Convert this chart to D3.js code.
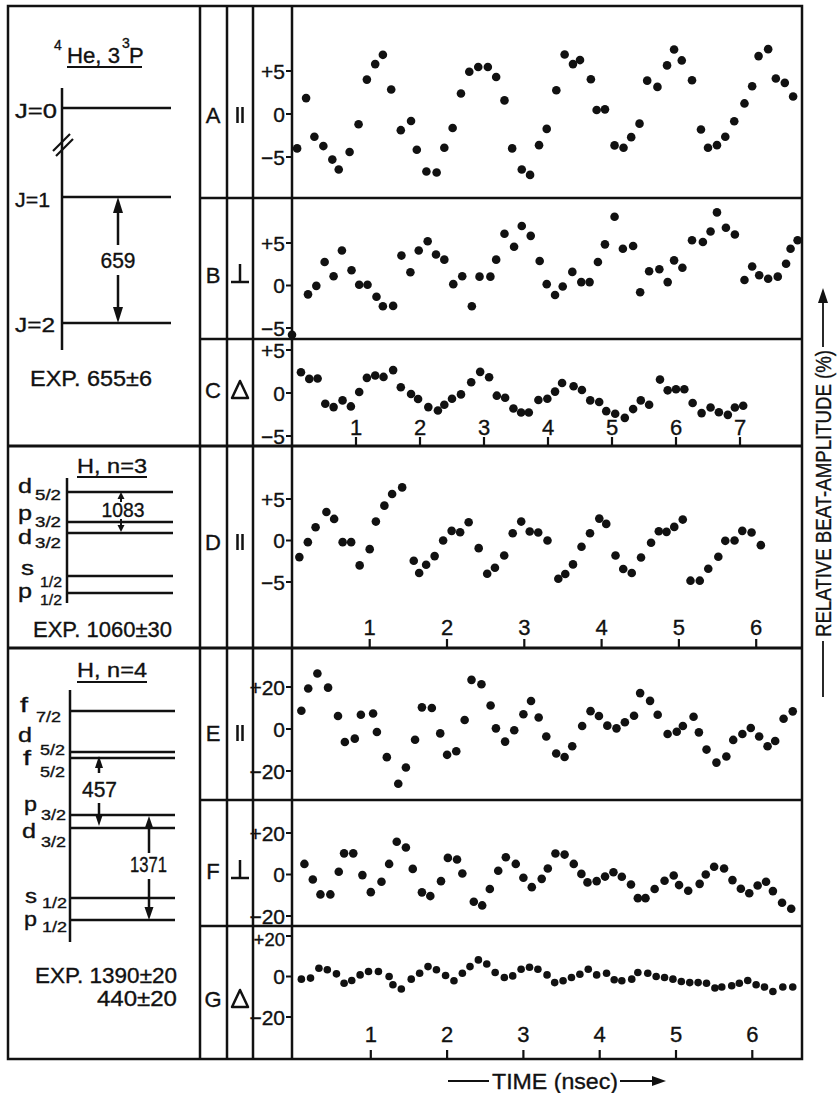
<!DOCTYPE html>
<html>
<head>
<meta charset="utf-8">
<script src="https://cdn.jsdelivr.net/npm/d3@7"></script>
<style>
body{margin:0;background:#fff}
text{font-family:"Liberation Sans",Arial,sans-serif;fill:#111;stroke:#111;stroke-width:0.35px}
</style>
</head>
<body>
<div id="main"></div>
<script>
// beat amplitudes (%) against time (nsec)
var aTime = [0.08,0.22,0.35,0.49,0.63,0.73,0.90,1.04,1.17,1.30,1.42,1.55,1.70,1.86,1.95,2.10,2.26,2.38,2.51,2.64,2.77,2.91,3.06,3.19,3.32,3.44,3.59,3.72,3.86,3.98,4.13,4.26,4.39,4.50,4.67,4.76,4.89,5.04,5.18,5.30,5.43,5.55,5.71,5.86,5.97,6.09,6.25,6.39,6.50,6.64,6.77,6.91,7.07,7.19,7.29,7.44,7.56,7.70,7.83];
var aVal = [-4.0,1.85,-2.65,-3.73,-5.3,-6.46,-4.42,-1.19,4.0,5.8,6.88,2.85,-1.88,-0.81,-4.15,-6.69,-6.81,-3.92,-1.62,2.38,4.92,5.46,5.46,4.31,1.58,-4.0,-6.46,-7.08,-3.62,-1.73,2.77,6.92,5.8,6.27,4.04,0.46,0.54,-3.65,-3.92,-2.69,-1.12,3.88,3.15,5.65,7.5,6.23,3.92,-1.81,-3.92,-3.62,-2.65,-0.85,1.23,3.23,6.73,7.54,4.12,3.62,2.04];

var bTime = [0,0.25,0.38,0.51,0.65,0.78,0.93,1.05,1.18,1.32,1.42,1.58,1.71,1.85,1.98,2.12,2.25,2.38,2.52,2.66,2.81,2.93,3.10,3.19,3.32,3.47,3.59,3.73,3.87,3.98,4.11,4.23,4.38,4.52,4.65,4.78,4.89,5.04,5.17,5.33,5.44,5.58,5.74,5.87,5.97,6.10,6.25,6.42,6.54,6.64,6.78,6.92,7.07,7.19,7.30,7.44,7.59,7.72,7.79,7.90];
var bVal = [-5.8,-1.04,-0.04,2.76,1.08,4.12,1.8,0.08,0.08,-1.32,-2.44,-2.4,3.52,1.56,4.12,5.2,3.64,3.04,0.16,1.08,-2.44,1.04,1.04,3.04,6.08,4.56,7.0,5.84,2.88,0.16,-1.12,-0.12,1.6,0.4,0.4,2.76,4.84,8.08,4.32,4.64,-0.8,1.68,1.92,0.4,2.96,2.08,5.32,5.12,6.36,8.6,6.8,6.0,0.64,2.24,1.2,0.8,1.04,2.56,4.32,5.32];

var cTime = [0.14,0.27,0.40,0.52,0.65,0.79,0.92,1.05,1.17,1.30,1.43,1.58,1.70,1.86,1.97,2.13,2.28,2.38,2.50,2.64,2.80,2.94,3.08,3.20,3.33,3.46,3.58,3.70,3.85,3.99,4.11,4.22,4.40,4.53,4.66,4.80,4.91,5.05,5.20,5.33,5.45,5.58,5.75,5.87,6.00,6.13,6.26,6.40,6.54,6.67,6.81,6.92,7.05];
var cVal = [2.42,1.64,1.68,-1.25,-1.64,-0.86,-1.56,0.12,1.76,2.03,1.87,2.66,0.66,-0.12,-0.70,-1.64,-2.03,-1.37,-0.66,-0.16,1.25,2.46,1.84,-0.31,-0.55,-1.80,-2.27,-2.27,-0.82,-0.66,0.16,1.17,0.78,0.35,-0.86,-1.05,-2.11,-2.42,-2.89,-1.87,-0.86,-1.37,1.56,0.31,0.43,0.43,-1.17,-2.34,-1.68,-2.23,-2.54,-1.68,-1.48];

var dTime = [0.09,0.20,0.30,0.44,0.54,0.65,0.76,0.87,1.00,1.08,1.19,1.29,1.42,1.57,1.64,1.73,1.84,1.95,2.06,2.17,2.28,2.41,2.52,2.62,2.74,2.85,2.96,3.07,3.18,3.30,3.44,3.53,3.63,3.74,3.85,3.97,4.06,4.18,4.28,4.39,4.51,4.64,4.74,4.84,4.94,5.05,5.15,5.27,5.38,5.51,5.60,5.72,5.82,5.94,6.06];
var dVal = [-2.0,-0.2,1.6,3.44,2.6,-0.2,-0.2,-3.0,-1.04,2.28,4.2,5.6,6.4,-2.44,-3.92,-2.92,-1.88,0,1.16,1.0,2.2,-0.92,-4.0,-3.28,-1.8,0.88,2.28,1.08,0.96,0,-4.6,-4.04,-2.88,-0.76,0.88,2.64,2.0,-1.8,-3.44,-3.92,-2.04,-0.28,1.12,1.04,1.64,2.52,-4.84,-4.84,-3.4,-1.96,-0.04,0,1.16,0.96,-0.56];

var eTime = [0.09,0.18,0.30,0.44,0.57,0.66,0.79,0.87,1.03,1.08,1.21,1.36,1.46,1.58,1.67,1.80,1.91,2.00,2.12,2.23,2.32,2.45,2.57,2.64,2.76,2.88,3.00,3.10,3.20,3.30,3.43,3.54,3.64,3.77,3.88,3.99,4.10,4.22,4.33,4.45,4.53,4.66,4.76,4.89,5.01,5.09,5.23,5.30,5.40,5.53,5.66,5.75,5.87,5.98,6.09,6.20,6.30,6.41,6.53];
var eVal = [8.7,19.3,26.4,19.7,6.2,-6.2,-4.6,6.8,7.4,-1.4,-13.4,-26.1,-18.3,-5.1,10.3,10.0,-2.1,-12.3,-10.6,4.3,23.4,21.3,11.2,0.3,-6.0,-0.6,7.0,13.3,5.5,-3.6,-11.7,-13.3,-8.2,1.4,8.5,6.2,1.6,0.3,3.2,6.3,17.1,13.4,6.8,-2.4,-1.3,1.4,5.8,-1.6,-9.8,-16.0,-13.1,-5.2,-2.4,0.5,-3.6,-8.2,-5.7,4.9,8.4];

var fTime = [0.13,0.24,0.34,0.47,0.58,0.65,0.77,0.89,1.00,1.14,1.24,1.34,1.46,1.55,1.67,1.78,1.92,2.01,2.13,2.20,2.35,2.46,2.56,2.67,2.77,2.90,3.00,3.11,3.24,3.32,3.42,3.54,3.66,3.76,3.84,3.96,4.07,4.18,4.29,4.41,4.50,4.60,4.72,4.85,4.97,5.04,5.16,5.31,5.39,5.50,5.63,5.74,5.85,5.96,6.07,6.18,6.27,6.39,6.51];
var fVal = [5.1,-2.4,-9.6,-9.6,1.3,10.2,10.2,-0.3,-8.5,-3.5,5.1,15.8,13.0,2.7,-8.6,-10.4,-3.2,8.0,7.2,0.5,-13.1,-14.9,-7.0,1.8,8.3,5.1,-1.6,-6.1,-2.1,2.9,10.1,9.6,5.1,0.3,-3.8,-3.2,-1.0,1.1,-1.1,-4.8,-11.4,-11.4,-7.0,-3.0,-0.5,-5.1,-7.8,-4.5,0,3.7,2.9,-2.7,-6.9,-9.0,-5.3,-3.5,-8.0,-13.6,-16.5];

var gTime = [0.09,0.21,0.32,0.43,0.55,0.65,0.75,0.86,0.97,1.10,1.24,1.29,1.40,1.53,1.64,1.75,1.86,1.98,2.09,2.20,2.30,2.41,2.52,2.63,2.75,2.86,2.97,3.08,3.19,3.31,3.41,3.52,3.63,3.74,3.85,3.96,4.09,4.19,4.29,4.42,4.50,4.63,4.74,4.85,4.96,5.07,5.18,5.29,5.40,5.51,5.60,5.73,5.83,5.94,6.05,6.16,6.27,6.40,6.53];
var gVal = [-1.3,-0.8,4.1,3.3,1.3,-3.3,-2.0,0.8,2.5,2.5,0,-4.1,-6.2,-1.3,1.6,4.9,3.3,0.5,-2.1,1.6,4.9,8.2,6.2,2.0,-0.5,0.3,3.6,4.6,3.6,0.8,-3.0,-2.1,-0.5,1.1,3.6,0.8,1.6,-1.6,-2.1,-1.3,2.0,1.6,0,-0.5,-1.3,-2.5,-3.0,-3.0,-3.3,-5.7,-5.2,-4.6,-3.3,-2.0,-4.1,-5.2,-7.4,-5.2,-5.2];

// tick labels
var abcTicks = [1,2,3,4,5,6,7];
var dTicks = [1,2,3,4,5,6];
var efgTicks = [1,2,3,4,5,6];
var smallTicks = [-5,0,5];
var bigTicks = [-20,0,20];
var rowLetters = ["A","B","C","D","E","F","G"];
var rowSymbols = ["par","perp","delta","par","par","perp","delta"];

var ink = "#111";
var svg = d3.select("#main").append("svg")
    .attr("width",837).attr("height",1093);

function line(x1,y1,x2,y2,w){
  svg.append("line").attr("x1",x1).attr("y1",y1).attr("x2",x2).attr("y2",y2)
    .attr("stroke",ink).attr("stroke-width",w||2.5);
}
function label(x,y,s,size,anchor,len){
  var t = svg.append("text").attr("x",x).attr("y",y)
    .attr("font-size",size).attr("text-anchor",anchor||"start").text(s);
  if(len) t.attr("textLength",len).attr("lengthAdjust","spacingAndGlyphs");
  return t;
}
// filled arrow head, tip at (x,y), dir -1 = up, +1 = down
function head(x,y,dir,len,w){
  svg.append("path")
    .attr("d","M"+x+","+y+"L"+(x-w/2)+","+(y-dir*len)+"L"+(x+w/2)+","+(y-dir*len)+"Z")
    .attr("fill",ink);
}

// ---- frame and grid ----
svg.append("rect").attr("x",8).attr("y",6).attr("width",794).attr("height",1053)
  .attr("fill","none").attr("stroke",ink).attr("stroke-width",2.5);
[200,227,253,292].forEach(function(x){ line(x,6,x,1059,2.5); });
[446,648].forEach(function(y){ line(8,y,802,y,3); });
[198,339,800,926].forEach(function(y){ line(200,y,802,y,2.5); });

// ---- data panels ----
var xABC = d3.scaleLinear().domain([0,7]).range([292,740]);
var xD = d3.scaleLinear().domain([0,6]).range([292.4,756.2]);
var xEFG = d3.scaleLinear().domain([0,6]).range([294.5,752.3]);

var rows = [
  {t:aTime, v:aVal, x:xABC, y:d3.scaleLinear().domain([-5,5]).range([157,71]),  ticks:smallTicks, mid:115, r:4.3},
  {t:bTime, v:bVal, x:xABC, y:d3.scaleLinear().domain([-5,5]).range([328,243]), ticks:smallTicks, mid:275, r:4.3},
  {t:cTime, v:cVal, x:xABC, y:d3.scaleLinear().domain([-5,5]).range([436,350]), ticks:smallTicks, mid:390, r:4.3},
  {t:dTime, v:dVal, x:xD,   y:d3.scaleLinear().domain([-5,5]).range([582,499]), ticks:smallTicks, mid:542, r:4.3},
  {t:eTime, v:eVal, x:xEFG, y:d3.scaleLinear().domain([-20,20]).range([771,687]), ticks:bigTicks, mid:733, r:4.3},
  {t:fTime, v:fVal, x:xEFG, y:d3.scaleLinear().domain([-20,20]).range([916,833]), ticks:bigTicks, mid:871, r:4.3},
  {t:gTime, v:gVal, x:xEFG, y:d3.scaleLinear().domain([-20,20]).range([1017,936]), ticks:bigTicks, mid:999, r:3.8}
];

function fmt(v){ return v>0 ? "+"+v : (v<0 ? "\u2212"+(-v) : "0"); }

rows.forEach(function(row,i){
  // y ticks; the top label of G is squeezed under the divider as in the original
  var yAxis = svg.append("g").attr("class","yaxis");
  yAxis.selectAll("line").data(row.ticks).enter().append("line")
    .attr("x1",286).attr("x2",292)
    .attr("y1",function(d){return row.y(d);}).attr("y2",function(d){return row.y(d);})
    .attr("stroke",ink).attr("stroke-width",2);
  yAxis.selectAll("text").data(row.ticks).enter().append("text")
    .attr("x",285)
    .attr("y",function(d){return row.y(d)+(i==6 && d>0 ? 9.5 : 7.5);})
    .attr("text-anchor","end")
    .attr("font-size",function(d){return (i==6 && d>0) ? 18.5 : 21;})
    .text(fmt);

  // points
  svg.append("g").selectAll("circle").data(d3.zip(row.t,row.v)).enter().append("circle")
    .attr("cx",function(d){return row.x(d[0]);})
    .attr("cy",function(d){return row.y(d[1]);})
    .attr("r",row.r).attr("fill",ink);

  // row letter and polarisation symbol
  label(213,row.mid+8,rowLetters[i],22,"middle");
  var cx = 240, cy = row.mid;
  if(rowSymbols[i]=="par"){
    line(cx-2.5,cy-8,cx-2.5,cy+8,2.5); line(cx+2.5,cy-8,cx+2.5,cy+8,2.5);
  } else if(rowSymbols[i]=="perp"){
    line(cx,cy-11,cx,cy+7,2.5); line(cx-9,cy+7,cx+9,cy+7,2.5);
  } else {
    svg.append("path").attr("d","M"+cx+","+(cy-9)+"L"+(cx+8)+","+(cy+8)+"L"+(cx-8)+","+(cy+8)+"Z")
      .attr("fill","none").attr("stroke",ink).attr("stroke-width",2.5).attr("stroke-linejoin","round");
  }
});

// time axes
function timeAxis(scale,ticks,bottom,base){
  var g = svg.append("g").attr("class","xaxis");
  g.selectAll("line").data(ticks).enter().append("line")
    .attr("x1",scale).attr("x2",scale).attr("y1",bottom-9).attr("y2",bottom)
    .attr("stroke",ink).attr("stroke-width",2.2);
  g.selectAll("text").data(ticks).enter().append("text")
    .attr("x",scale).attr("y",base).attr("text-anchor","middle").attr("font-size",22)
    .text(function(d){return d;});
}
timeAxis(xABC,abcTicks,446,435);
timeAxis(xD,dTicks,648,635);
timeAxis(xEFG,efgTicks,1059,1042);

// axis titles
label(555,1089,"TIME (nsec)",22,"middle",126);
line(448,1081,489,1081,1.8);
line(620,1081,656,1081,1.8);
svg.append("path").attr("d","M666,1081L652,1076L652,1086Z").attr("fill",ink);

svg.append("text").attr("transform","translate(831,493.5) rotate(-90)")
  .attr("text-anchor","middle").attr("font-size",22)
  .attr("textLength",287).attr("lengthAdjust","spacingAndGlyphs")
  .text("RELATIVE BEAT-AMPLITUDE (%)");
line(823,641,823,697,1.8);
line(823,347,823,300,1.8);
head(823,288,-1,15,10);

// ---- level schemes ----
// 4He 3^3P
label(54,50,"4",14);
label(67,63,"He, 3",22,"start",53);
label(122,48,"3",14);
label(129,63,"P",22);
line(67,67,142,67,2);
line(62,88,62,350,2.5);
line(53,151,70,134,2.2); line(56,156,73,139,2.2);
[108,197,323].forEach(function(y){ line(62,y,171,y,2.5); });
label(15,118,"J=0",21,"start",42);
label(15,207,"J=1",21,"start",35);
label(15,332,"J=2",21,"start",40);
line(118,210,118,245,2.5); head(118,197,-1,16,10);
line(118,275,118,310,2.5); head(118,323,1,16,10);
label(118,268,"659",22,"middle",35);
label(30,386,"EXP. 655\u00b16",22,"start",122);

// H n=3
label(77,473,"H, n=3",21,"start",70);
line(77,477,147,477,2);
line(67,478,67,603,2.5);
[492,522,533,576,593].forEach(function(y){ line(67,y,173,y,2.5); });
label(18,493,"d",20,"start",14); label(35,500,"5/2",15,"start",26);
label(18,520,"p",20,"start",14); label(35,527,"3/2",15,"start",26);
label(18,544,"d",20,"start",14); label(35,548,"3/2",15,"start",26);
label(21,575,"s",20,"start",13); label(40,587,"1/2",15,"start",22);
label(18,598,"p",20,"start",14); label(40,605,"1/2",15,"start",22);
head(121,492,-1,7,7); line(121,498,121,502,2);
line(121,519,121,526,2); head(121,532,1,7,7);
label(123,517,"1083",20,"middle",43);
label(33,637,"EXP. 1060\u00b130",22,"start",139);

// H n=4
label(77,677,"H, n=4",21,"start",70);
line(77,682,147,682,2);
line(70,690,70,942,2.5);
[711,752,758,815,828,898,920].forEach(function(y){ line(70,y,175,y,2.5); });
label(20,712,"f",20,"start",8);  label(36,722,"7/2",15,"start",25);
label(18,742,"d",20,"start",14); label(40,755,"5/2",15,"start",25);
label(23,765,"f",20,"start",8);  label(40,777,"5/2",15,"start",25);
label(24,811,"p",20,"start",13); label(41,820,"3/2",15,"start",25);
label(22,838,"d",20,"start",14); label(41,847,"3/2",15,"start",25);
label(25,903,"s",20,"start",12); label(42,908,"1/2",15,"start",25);
label(24,926,"p",20,"start",13); label(42,932,"1/2",15,"start",25);
head(99,756,-1,12,8); line(99,766,99,773,2.5);
line(99,803,99,814,2.5); head(99,826,1,12,8);
label(99.5,797,"457",22,"middle",35);
head(149,816,-1,13,9); line(149,827,149,853,2.5);
line(149,879,149,908,2.5); head(149,920,1,13,9);
label(148.5,872,"1371",22,"middle",37);
label(35,983,"EXP. 1390\u00b120",22,"start",142);
label(97,1006,"440\u00b120",22,"start",80);
</script>
</body>
</html>
